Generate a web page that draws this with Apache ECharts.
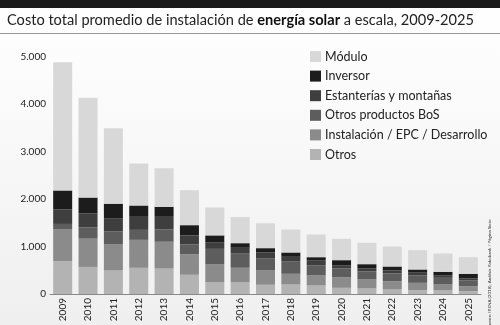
<!DOCTYPE html>
<html><head><meta charset="utf-8">
<script src="https://cdn.jsdelivr.net/npm/echarts@6/dist/echarts.min.js"></script>
<style>html,body{margin:0;padding:0;}#c{width:500px;height:325px;}</style>
</head><body><div id="c"></div>
<script>
const years = ['2009','2010','2011','2012','2013','2014','2015','2016','2017','2018','2019','2020','2021','2022','2023','2024','2025'];
const otros =       [690, 570, 495, 551, 535, 405, 253, 253, 195, 200, 179, 130, 116,  95,  80,  74,  60];
const instalacion = [668, 595, 547, 589, 565, 432, 368, 299, 300, 225, 211, 224, 189, 175, 155, 126, 105];
const otrosBoS =    [117, 235, 273, 210, 258, 205, 329, 308, 249, 266, 216, 183, 169, 162, 155, 141, 119];
const estanterias = [305, 295, 282, 275, 267, 191, 141, 113, 129,  92, 106,  69,  69,  63,  70,  55,  42];
const inversor =    [400, 335, 305, 238, 210, 216, 143,  97,  92,  91,  63, 106,  85,  84,  56,  71,  99];
const modulo =      [2700,2100,1588, 884, 813, 736, 586, 550, 525, 484, 478, 450, 450, 421, 407, 386, 350];
const yTicks = [0, 1000, 2000, 3000, 4000, 5000];

const names = ['Otros','Instalación / EPC / Desarrollo','Otros productos BoS','Estanterías y montañas','Inversor','Módulo'];
const colors = ['#b3b3b3','#8b8b8b','#5d5d5d','#3e3e3e','#1c1c1c','#d8d8d8'];
const datas = [otros, instalacion, otrosBoS, estanterias, inversor, modulo];

const chart = echarts.init(document.getElementById('c'));
const F = 'Lato, "Open Sans", sans-serif';
chart.setOption({
  animation: false,
  backgroundColor: {type:'linear', x:0, y:0, x2:0, y2:1, colorStops:[{offset:0,color:'#ffffff'},{offset:0.35,color:'#fafafa'},{offset:1,color:'#efefef'}]},
  graphic: [
    {type:'rect', shape:{x:0,y:0,width:500,height:8}, style:{fill:'#1a1a1a'}},
    {type:'text', left:7, top:13, style:{text:'{n|Costo total promedio de instalación de }{b|energía solar}{n| a escala, 2009-2025}', fill:'#222', rich:{n:{fontFamily:F,fontSize:14.6,fill:'#222'}, b:{fontFamily:F,fontSize:14.6,fontWeight:'bold',fill:'#111'}}}},
    {type:'rect', shape:{x:0,y:33,width:500,height:1}, style:{fill:'#9a9a9a'}},
    {type:'text', x:490, y:274, rotation:Math.PI/2, style:{text:'Fuente: IRENA (2018), Análisis Rabobank / Página Siete', fontFamily:F, fontSize:4.5, fill:'#333', align:'center', verticalAlign:'middle'}}
  ],
  legend: {
    orient:'vertical', left:305, top:45,
    data: ['Módulo','Inversor','Estanterías y montañas','Otros productos BoS','Instalación / EPC / Desarrollo','Otros'],
    icon:'rect', itemWidth:11, itemHeight:11, itemGap:6.6,
    textStyle:{fontFamily:F, fontSize:12.5, color:'#222', lineHeight:12, padding:[0,0,0,-1]}
  },
  grid: {left:50, right:19, top:56.5, bottom:31, containLabel:false},
  xAxis: {
    type:'category', data: years,
    axisLine:{show:true, lineStyle:{color:'#888', width:1}},
    axisTick:{show:false},
    axisLabel:{rotate:90, fontFamily:F, fontSize:10, color:'#222', margin:4}
  },
  yAxis: {
    type:'value', min:0, max:5000, interval:1000,
    axisLine:{show:false}, axisTick:{show:false}, splitLine:{show:false},
    axisLabel:{fontFamily:F, fontSize:10, color:'#222', margin:4, formatter:v=>yTicks.includes(v)?(v===0?'0':(v/1000)+'.000'):''}
  },
  series: datas.map((d,i)=>({
    name:names[i], type:'bar', stack:'t', data:d, barCategoryGap:'25%',
    itemStyle:{color:colors[i]}
  }))
});
</script></body></html>
